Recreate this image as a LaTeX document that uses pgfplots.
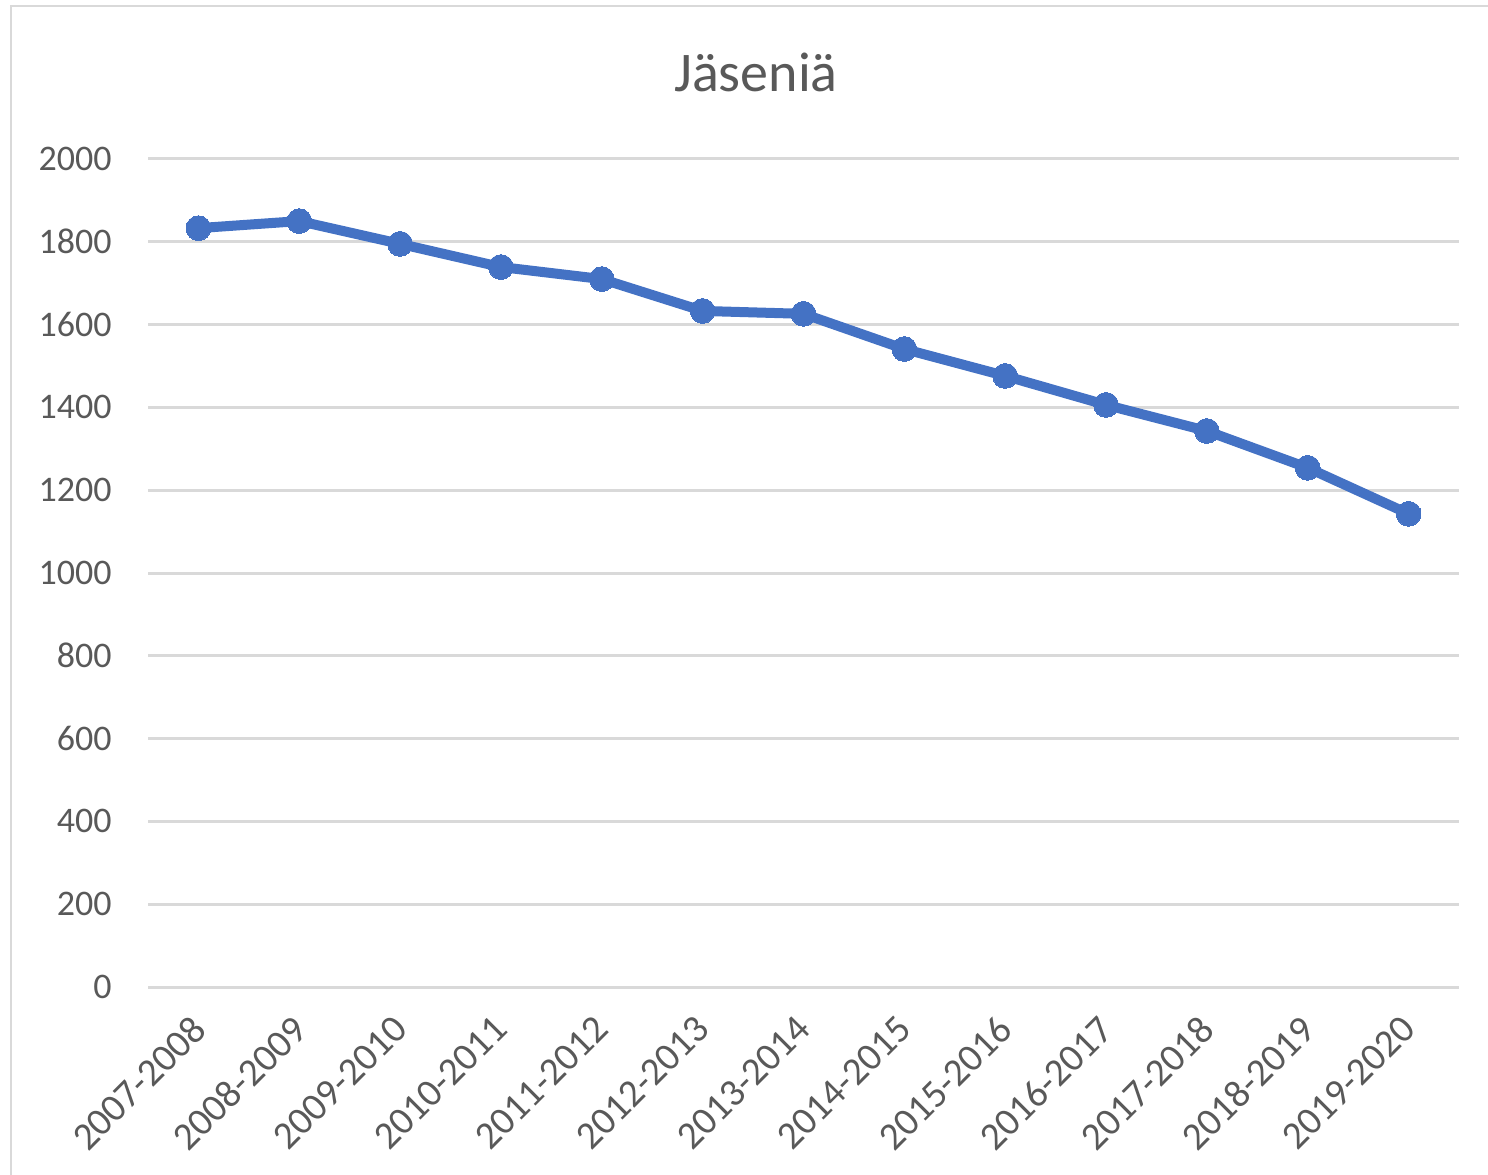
\documentclass[border=0pt]{standalone}
\usepackage{fontspec}
\setmainfont{Carlito}
\usepackage{pgfplots}
\pgfplotsset{compat=1.18}
\definecolor{txtc}{HTML}{595959}
\definecolor{gridc}{HTML}{D9D9D9}
\definecolor{linec}{HTML}{4472C4}
\begin{document}
\begin{tikzpicture}[x=1pt,y=1pt]
\path[use as bounding box] (0,0) rectangle (744,587);
\draw[gridc, line width=1pt] (5.5,-5) -- (5.5,584) -- (750,584);
\node[txtc, anchor=base, font=\fontsize{28}{32}\selectfont] at (378,541) {Jäseniä};
\begin{axis}[
  at={(74pt,93.5pt)}, anchor=south west,
  scale only axis, width=655.5pt, height=414pt,
  xmin=-0.5, xmax=12.5, ymin=0, ymax=2000,
  ytick={0,200,...,2000},
  xtick={0,...,12},
  xticklabels={2007-2008,2008-2009,2009-2010,2010-2011,2011-2012,2012-2013,2013-2014,2014-2015,2015-2016,2016-2017,2017-2018,2018-2019,2019-2020},
  axis line style={draw=none},
  tick style={draw=none},
  xmajorgrids=false,
  ymajorgrids=true,
  major grid style={draw=gridc, line width=1.5pt},
  /pgf/number format/assume math mode=true,
  /pgf/number format/1000 sep={},
  tick label style={txtc},
  yticklabel style={font=\fontsize{18}{21}\selectfont, inner sep=0pt, anchor=east, xshift=-18pt},
  xticklabel style={font=\fontsize{19.5}{22}\selectfont, xshift=-4.5pt, rotate=45, anchor=north east, inner sep=0pt},
  xticklabel shift=13pt,
  clip=false,
]
\addplot[linec, line width=5pt, mark=*, mark size=6.2pt, mark options={fill=linec, draw=linec, line width=0pt}] coordinates {
(0,1833) (1,1850) (2,1795) (3,1739) (4,1710) (5,1633) (6,1626) (7,1541) (8,1476) (9,1406) (10,1343) (11,1254) (12,1143)
};
\end{axis}
\end{tikzpicture}
\end{document}
